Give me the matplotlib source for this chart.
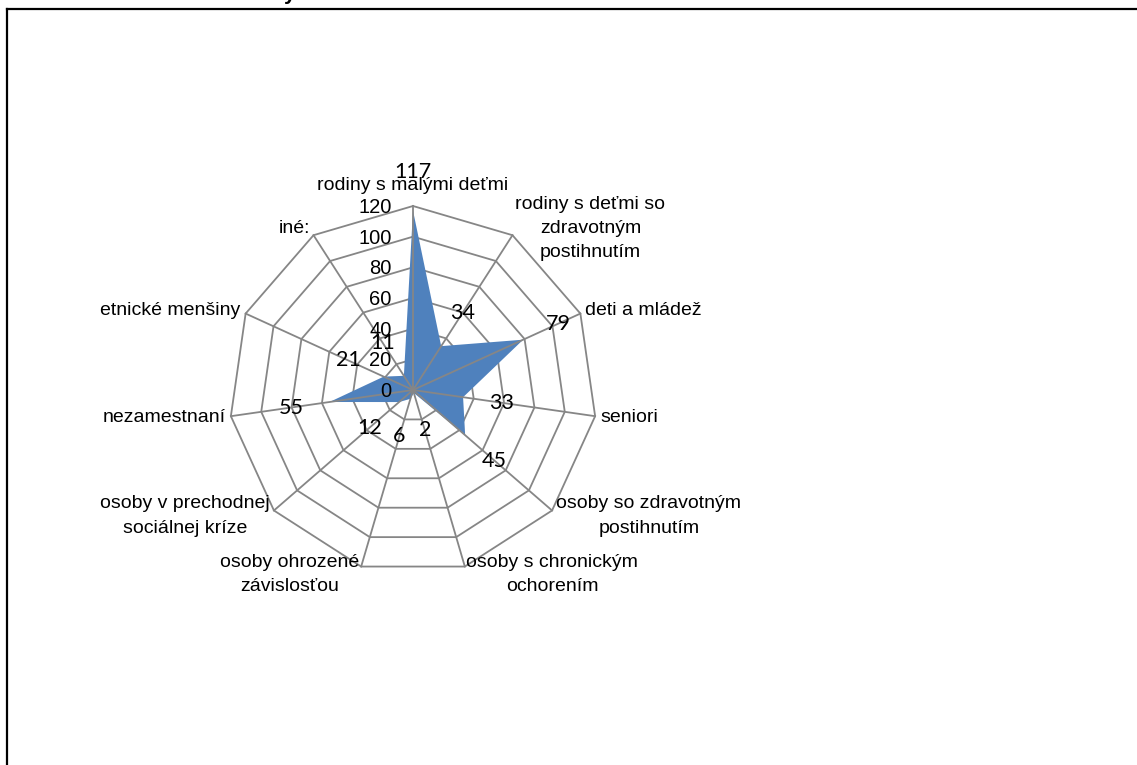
import numpy as np
import matplotlib
matplotlib.use('Agg')
import matplotlib.pyplot as plt
from matplotlib.lines import Line2D

plt.rcParams['font.family'] = ['Liberation Sans', 'DejaVu Sans']

# data
categories = ['rodiny s malými deťmi',
              'rodiny s deťmi so\nzdravotným\npostihnutím',
              'deti a mládež',
              'seniori',
              'osoby so zdravotným\npostihnutím',
              'osoby s chronickým\nochorením',
              'osoby ohrozené\nzávislosťou',
              'osoby v prechodnej\nsociálnej kríze',
              'nezamestnaní',
              'etnické menšiny',
              'iné:']
values = [117, 34, 79, 33, 45, 2, 6, 12, 55, 21, 11]
ticks = [0, 20, 40, 60, 80, 100, 120]

grid_col = '#868686'
fill_col = '#4F81BD'

n = len(categories)
theta = np.arange(n) * 2 * np.pi / n
th_c = np.append(theta, theta[0])
val_c = np.append(values, values[0])

fig = plt.figure(figsize=(11.37, 7.65), dpi=100)
W, H = 1137, 765
cx, cy, R = 413, 390, 184
ax = fig.add_axes([(cx - R) / W, (H - cy - R) / H, 2 * R / W, 2 * R / H],
                  projection='polar')
ax.set_theta_zero_location('N')
ax.set_theta_direction(-1)
ax.set_ylim(0, ticks[-1])
ax.axis('off')

# rings
for t in ticks[1:]:
    ax.plot(th_c, [t] * (n + 1), color=grid_col, lw=1.3, zorder=1, clip_on=False)
# series
ax.fill(th_c, val_c, color=fill_col, lw=0, zorder=2)
# spokes
for th in theta:
    ax.plot([th, th], [0, ticks[-1]], color=grid_col, lw=1.3, zorder=3, clip_on=False)

# value axis labels
for t in ticks:
    ax.annotate(str(t), (0, t), xytext=(-15.5, -1), textcoords='offset points',
                ha='right', va='center', fontsize=14.5, zorder=5)

# data labels
for th, v in zip(theta, values):
    ax.annotate(str(v), (th, v), xytext=(28 * np.sin(th), 28 * np.cos(th)),
                textcoords='offset points', ha='center', va='center',
                fontsize=15.5, family=['Lato', 'DejaVu Sans'], zorder=6)

# category labels
for th, lab in zip(theta, categories):
    s, c = np.sin(th), np.cos(th)
    if abs(s) < 0.1:
        ha = 'center'
        off = (0, 15)
    else:
        ha = 'left' if s > 0 else 'right'
        off = (4 * s, 6 * c)
    ax.annotate(lab, (th, ticks[-1]), xytext=off, textcoords='offset points',
                ha=ha, va='center', multialignment='center', fontsize=14,
                linespacing=1.55, annotation_clip=False, zorder=6)

# frame around chart area
fig.add_artist(Line2D([7 / W, 7 / W], [0, 1 - 9 / H], color='black', lw=1.6,
                      transform=fig.transFigure))
fig.add_artist(Line2D([7 / W, 1], [1 - 9 / H, 1 - 9 / H], color='black', lw=1.6,
                      transform=fig.transFigure))
# cut-off title above the frame
fig.text(290 / W, 1.0, 'y', ha='center', va='baseline', fontsize=15,
         fontweight='bold')

fig.savefig('out.png', dpi=100)
